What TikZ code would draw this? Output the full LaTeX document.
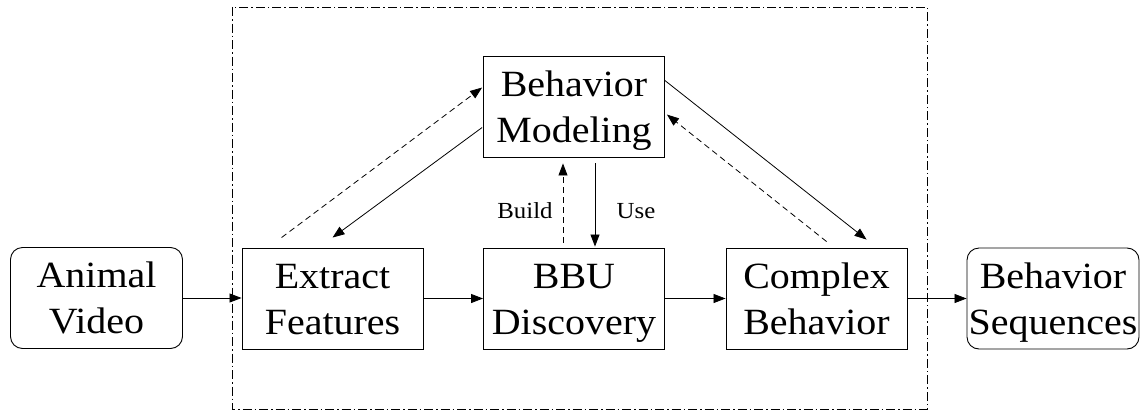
\documentclass[tikz,border=0pt]{standalone}
\usepackage{fontspec}
\setmainfont{Liberation Serif}[FakeStretch=1.08]
\usetikzlibrary{arrows.meta,calc}

% two centred lines on a fixed 46pt pitch, with a fixed overall height
\newcommand\twolines[2]{\raisebox{0pt}[25pt][46pt]{%
  \begin{tabular}[t]{@{}c@{}}#1\\#2\end{tabular}}}

\begin{document}
\begin{tikzpicture}[x=1pt,y=-1pt,
  box/.style={draw,line width=0.9pt,minimum width=181pt,minimum height=101pt,
    inner sep=0pt,font=\fontsize{37}{46}\selectfont},
  endbox/.style={box,rounded corners=12pt,minimum width=172pt},
  flow/.style={line width=0.8pt,-{Triangle[length=12pt,width=9pt]}},
  feedback/.style={flow,dash pattern=on 6pt off 4pt},
  frame/.style={line width=0.8pt,dash pattern=on 9pt off 3pt on 1.5pt off 3pt},
  tag/.style={font=\fontsize{23}{26}\selectfont,inner sep=0pt}]

\useasboundingbox (0,0) rectangle (1143,410);

% dash-dot frame round the processing stages
\draw[frame] (232,7) rectangle (927,409);

% stages
\node[endbox] (anim) at (96.5,298) {\twolines{Animal}{Video}};
\node[box] (ext) at (332.5,298.5) {\twolines{Extract}{Features}};
\node[box] (bbu) at (574,298.5) {\twolines{BBU}{Discovery}};
\node[box] (mod) at (574,106.5) {\twolines{Behavior}{Modeling}};
\node[box] (cmp) at (816.5,298.5) {\twolines{Complex}{Behavior}};
\node[endbox] (seq) at (1053,298.5) {\twolines{Behavior}{Sequences}};

% main pipeline
\draw[flow] (anim.east) -- (ext.west |- anim.east);
\draw[flow] (ext.east) -- (bbu.west);
\draw[flow] (bbu.east) -- (cmp.west);
\draw[flow] (cmp.east) -- (seq.west |- cmp.east);

% modeling loop with feature extraction
\draw[feedback] ($(ext.north west)+(40,-10)$) -- ($(mod.north west)+(-1,32)$);
\draw[flow] ($(mod.north west)+(-1,72)$) -- ($(ext.north west)+(91,-10)$);

% build / use between BBU discovery and modeling
\draw[feedback] ($(bbu.north)+(-11,-5)$) -- ($(mod.south)+(-11,6)$);
\draw[flow] ($(mod.south)+(21,6)$) -- ($(bbu.north)+(21,-1)$);
\node[tag] (build) at (525,211) {Build};
\node[tag] (use) at (636,211) {Use};

% modeling loop with complex behavior
\draw[flow] ($(mod.north east)+(0,25)$) -- ($(cmp.north west)+(141,-8)$);
\draw[feedback] ($(cmp.north west)+(101,-6)$) -- ($(mod.north east)+(2,59)$);

\end{tikzpicture}
\end{document}
